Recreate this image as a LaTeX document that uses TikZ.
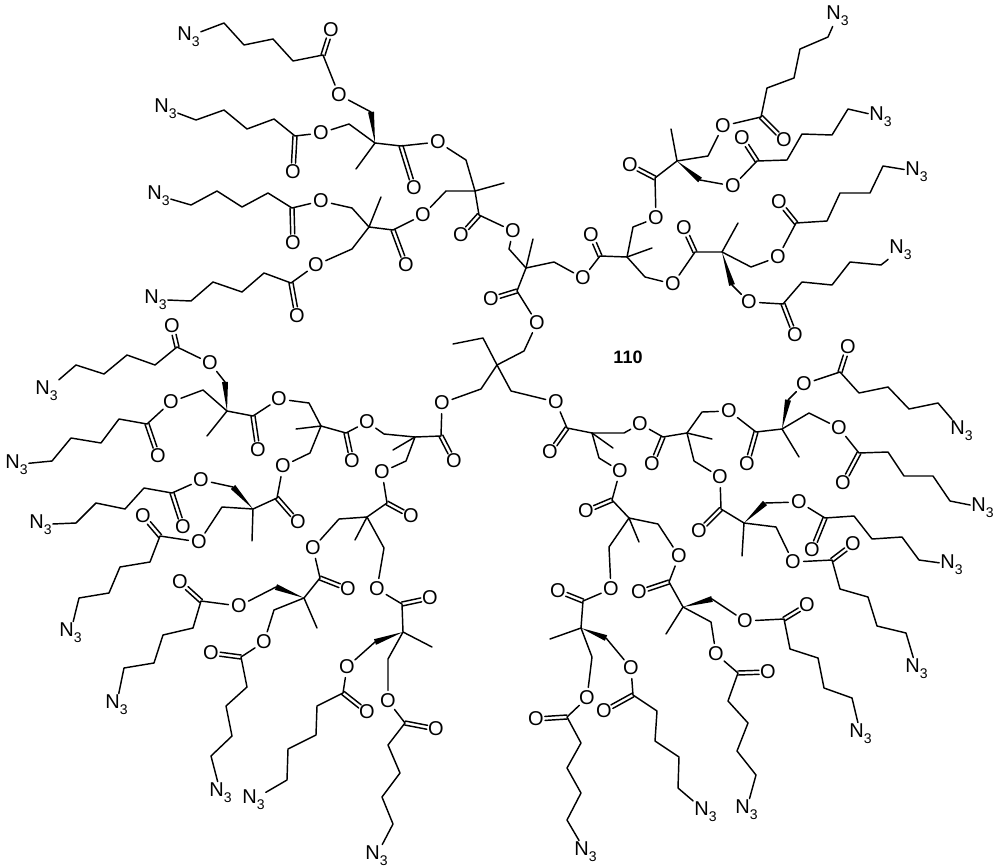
\documentclass[tikz,border=0pt]{standalone}
\usepackage{fontspec}
\newfontfamily\chemfont{Liberation Sans}
\usetikzlibrary{calc}
\tikzset{
	bond/.style={line width=1.45pt,line join=round,line cap=round},
	oxy/.style={circle,inner sep=0pt,font=\chemfont\fontsize{20}{20}\selectfont},
	azide/.style={rectangle,inner sep=1pt,font=\chemfont\fontsize{20}{20}\selectfont},
}
\newcommand{\dbl}[2]{
	\draw[bond,shorten >=9pt] ($(#1)!2pt!90:(#2)$) -- ($(#2)!2pt!-90:(#1)$);
	\draw[bond,shorten >=9pt] ($(#1)!2pt!-90:(#2)$) -- ($(#2)!2pt!90:(#1)$);
}
\newcommand{\wedgebond}[3]{
	\fill ($(#2)!3pt!90:(#1)$) -- (#1) -- ($(#2)!3pt!-90:(#1)$) -- cycle;
	\draw[bond] (#2) -- (#3);
}
% name, N3, four CH2, carbonyl C, =O, ester O
\newcommand{\azarm}[9]{
	\node[azide] (n#1) at (#2) {N\raisebox{-0.28em}{\fontsize{14}{14}\selectfont 3}};
	\node[oxy] (d#1) at (#8) {O};
	\node[oxy] (e#1) at (#9) {O};
	\coordinate (c#1) at (#7);
	\draw[bond] (n#1) -- (#3) -- (#4) -- (#5) -- (#6) -- (c#1) -- (e#1);
	\dbl{c#1}{d#1}
}
% name, quaternary C, methyl, carbonyl C, =O, linking O
\newcommand{\branchpt}[6]{
	\coordinate (q#1) at (#2);
	\coordinate (k#1) at (#4);
	\node[oxy] (m#1) at (#5) {O};
	\draw[bond] (#3) -- (q#1) -- (k#1) -- (#6);
	\dbl{k#1}{m#1}
}
\begin{document}
\begin{tikzpicture}[x=1pt,y=-1pt]
	\useasboundingbox (0,0) rectangle (1000,867);
	% linking oxygens
	\foreach \nm/\x/\y in {x1/438/142,x2/423/215,x3/513/231,x4/583/278,x5/537/323,x6/442/403,x7/556/402,
		x8/656/218,x9/673/284,x10/279/399,x11/283/466,x12/367/422,x13/382/472,x14/313/548,x15/377/589,
		x16/729/411,x17/720/477,x18/640/424,x19/620/471,x20/679/556,x21/611/589}
		\node[oxy] (\nm) at (\x,\y) {O};

	% top left arms
	\azarm{t1}{188.5,36.5}{224,23}{244,45}{273,39}{293,61}{323,55}{331,30}{339,95}
	\azarm{t2}{165.5,108.5}{196,120}{224,110}{247,129}{274,119}{295,136}{293,172}{321,133}
	\azarm{t3}{158.5,195.5}{191,205}{217,191}{242,207}{268,193}{292,208}{293,243}{321,201}
	\azarm{t4}{155.5,299.5}{191,301}{213,282}{242,292}{264,273}{291,283}{297,316}{316,265}
	% top right arms
	\azarm{r1}{837.5,15.5}{828,37}{800,49}{794,78}{767,88}{761,117}{784,140}{723,126}
	\azarm{r2}{880.5,116.5}{848,109}{832,135}{802,134}{787,160}{757,161}{742,138}{733,186}
	\azarm{r3}{916.5,171.5}{883,166}{870,193}{840,193}{827,221}{796,223}{779,202}{778,257}
	\azarm{r4}{900.5,249.5}{881,265}{850,262}{832,285}{802,282}{783,304}{795,335}{749,302}
	% left arms
	\azarm{l1}{46.5,390.5}{76,365}{104,374}{127,355}{155,365}{177,347}{172,326}{210,363}
	\azarm{l2}{16.5,464.5}{52,461}{71,438}{101,443}{119,419}{147,424}{158,456}{171,402}
	\azarm{l3}{40.5,524.5}{76,523}{96,503}{125,509}{144,488}{172,493}{183,527}{201,480}
	\azarm{l4}{70.5,632.5}{79,598}{109,593}{120,567}{150,562}{160,536}{143,516}{199,542}
	\azarm{l5}{116.5,704.5}{124,668}{154,663}{163,635}{193,628}{201,601}{180,582}{239,606}
	\azarm{l6}{220.5,792.5}{211,756}{232,736}{226,706}{247,687}{241,657}{211,653}{264,642}
	\azarm{l7}{253.5,799.5}{287,780}{288,749}{316,735}{317,706}{343,693}{367,712}{347,667}
	\azarm{l8}{376.5,855.5}{393,824}{382,797}{400,773}{388,745}{405,723}{436,729}{388,701}
	% lower right arms
	\azarm{b1}{961.5,430.5}{938,403}{909,409}{888,387}{859,393}{840,372}{848,347}{804,384}
	\azarm{b2}{982.5,507.5}{950,501}{933,476}{904,476}{888,452}{859,453}{843,483}{839,428}
	\azarm{b3}{951.5,564.5}{919,560}{902,537}{872,539}{854,516}{825,518}{812,550}{799,502}
	\azarm{b4}{916.5,668.5}{906,633}{877,626}{868,597}{840,589}{832,560}{853,544}{793,562}
	\azarm{b5}{860.5,733.5}{852,698}{824,688}{818,658}{790,649}{784,619}{807,605}{745,621}
	\azarm{b6}{746.5,809.5}{756,775}{737,751}{748,723}{728,701}{738,673}{768,672}{716,654}
	\azarm{b7}{705.5,811.5}{678,788}{679,757}{655,741}{657,711}{633,695}{604,711}{631,668}
	\azarm{b8}{585.5,851.5}{567,820}{581,793}{567,768}{581,743}{567,717}{536,719}{587,698}

	% branch points
	\branchpt{1}{375,143}{356,169}{401,146}{414,188}{x1}
	\branchpt{2}{369,227}{381,197}{393,230}{406,265}{x2}
	\branchpt{3}{475,191}{504,183}{479,215}{461,235}{x3}
	\branchpt{4}{526,268}{533,239}{517,291}{491,299}{x5}
	\branchpt{5}{677,161}{671,129}{655,178}{630,165}{x8}
	\branchpt{6}{722,252}{738,223}{695,252}{684,228}{x9}
	\branchpt{7}{627,257}{652,248}{600,256}{591,235}{x4}
	\branchpt{8}{227,411}{207,436}{253,416}{258,450}{x10}
	\branchpt{9}{253,509}{252,541}{277,498}{298,522}{x11}
	\branchpt{10}{321,426}{296,429}{346,433}{352,461}{x12}
	\branchpt{11}{415,437}{393,450}{441,436}{454,461}{x6}
	\branchpt{12}{304,598}{317,628}{320,578}{348,589}{x14}
	\branchpt{13}{403,632}{432,647}{402,604}{430,598}{x15}
	\branchpt{14}{367,517}{355,540}{387,503}{411,516}{x13}
	\branchpt{15}{782,429}{799,457}{756,432}{747,464}{x16}
	\branchpt{16}{744,523}{742,556}{721,509}{699,531}{x17}
	\branchpt{17}{687,433}{712,439}{663,437}{652,464}{x18}
	\branchpt{18}{592,433}{613,448}{567,428}{550,452}{x7}
	\branchpt{19}{683,607}{666,634}{669,582}{639,592}{x20}
	\branchpt{20}{581,628}{550,639}{583,601}{558,591}{x21}
	\branchpt{21}{629,518}{639,542}{612,500}{586,511}{x19}

	% core
	\coordinate (q0) at (497,365);
	\draw[bond] (x5) -- (524,351) -- (q0);
	\draw[bond] (453,344) -- (483,338) -- (q0);
	\draw[bond] (x6) -- (481,389) -- (q0);
	\draw[bond] (x7) -- (511,391) -- (q0);

	% links between generations
	\draw[bond] (x1) -- (466,160) -- (q3);
	\draw[bond] (x2) -- (446,191) -- (q3);
	\draw[bond] (x3) -- (509,249) -- (q4);
	\draw[bond] (x4) -- (554,262) -- (q4);
	\draw[bond] (x8) -- (633,227) -- (q7);
	\draw[bond] (x9) -- (645,277) -- (q7);
	\draw[bond] (x10) -- (309,403) -- (q10);
	\draw[bond] (x11) -- (310,453) -- (q10);
	\draw[bond] (x12) -- (384,434) -- (q11);
	\draw[bond] (x13) -- (406,461) -- (q11);
	\draw[bond] (x14) -- (339,519) -- (q14);
	\draw[bond] (x15) -- (384,548) -- (q14);
	\draw[bond] (x16) -- (702,412) -- (q17);
	\draw[bond] (x17) -- (694,461) -- (q17);
	\draw[bond] (x18) -- (624,433) -- (q18);
	\draw[bond] (x19) -- (599,458) -- (q18);
	\draw[bond] (x20) -- (658,524) -- (q21);
	\draw[bond] (x21) -- (609,547) -- (q21);

	% arms to branch points
	\wedgebond{q1}{371,112}{et1}
	\draw[bond] (et2) -- (349,124) -- (q1);
	\draw[bond] (et3) -- (352,208) -- (q2);
	\draw[bond] (et4) -- (352,249) -- (q2);
	\wedgebond{q5}{700,180}{er2}
	\draw[bond] (er1) -- (708,156) -- (q5);
	\wedgebond{q6}{732,285}{er4}
	\draw[bond] (er3) -- (751,267) -- (q6);
	\wedgebond{q8}{225,382}{el1}
	\draw[bond] (el2) -- (203,390) -- (q8);
	\wedgebond{q9}{233,487}{el3}
	\draw[bond] (el4) -- (222,507) -- (q9);
	\wedgebond{q12}{276,587}{el5}
	\draw[bond] (el6) -- (274,610) -- (q12);
	\wedgebond{q13}{375,642}{el7}
	\draw[bond] (el8) -- (388,659) -- (q13);
	\wedgebond{q15}{788,400}{eb1}
	\draw[bond] (eb2) -- (809,413) -- (q15);
	\wedgebond{q16}{765,503}{eb3}
	\draw[bond] (eb4) -- (776,527) -- (q16);
	\wedgebond{q19}{712,599}{eb5}
	\draw[bond] (eb6) -- (711,622) -- (q19);
	\wedgebond{q20}{606,638}{eb7}
	\draw[bond] (eb8) -- (592,657) -- (q20);

	\node[font=\chemfont\fontsize{18}{18}\selectfont\bfseries] (label) at (628,357) {110};
\end{tikzpicture}
\end{document}
